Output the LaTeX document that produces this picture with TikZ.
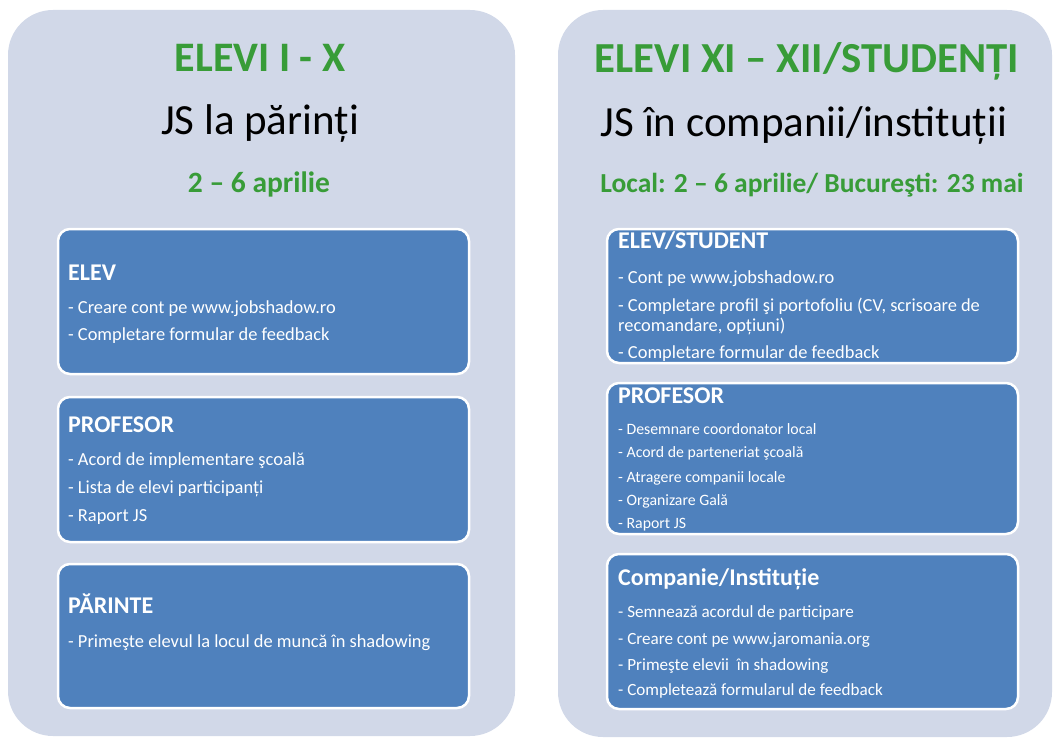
\documentclass[tikz,border=0pt]{standalone}
\usepackage{fontspec}
\setmainfont{Carlito}
\definecolor{panelfill}{HTML}{D1D8E8}
\definecolor{boxfill}{HTML}{4F81BD}
\definecolor{jagreen}{RGB}{56,156,56}
\tikzset{
  panel/.style={rectangle, rounded corners=45pt, fill=panelfill, draw=none, inner sep=0pt},
  card/.style={rectangle, rounded corners=12pt, fill=boxfill, draw=white, line width=2.5pt, inner sep=0pt, minimum width=411pt},
  ttl/.style={anchor=base, inner sep=0pt, text=jagreen, font=\fontsize{42}{46}\selectfont\bfseries},
  sub/.style={anchor=base, inner sep=0pt, text=black, font=\fontsize{43}{48}\selectfont},
  datetxt/.style={anchor=base, inner sep=0pt, text=jagreen, font=\fontsize{28}{32}\selectfont\bfseries},
  head/.style={anchor=base west, inner sep=0pt, text=white, font=\fontsize{24}{28}\selectfont\bfseries},
  item/.style={anchor=base west, inner sep=0pt, text=white, font=\fontsize{18.4}{22}\selectfont},
  itemmid/.style={anchor=base west, inner sep=0pt, text=white, font=\fontsize{17.1}{20}\selectfont},
  itemsm/.style={anchor=base west, inner sep=0pt, text=white, font=\fontsize{15.8}{19}\selectfont},
}
\begin{document}
\begin{tikzpicture}[x=1pt,y=-1pt]
\useasboundingbox (0,0) rectangle (1056,738);
% panels
\node[panel, minimum width=507pt, minimum height=726pt] (pl) at (261.5,373) {};
\node[panel, minimum width=494pt, minimum height=727pt] (pr) at (805,373.5) {};
% titles left
\node[ttl] (tl) at (260,72) {ELEVI I - X};
\node[sub] (sl) at (260,135) {JS la părinți};
\node[datetxt, font=\fontsize{29.5}{33}\selectfont\bfseries] (dl) at (259,193) {2 – 6 aprilie};
% titles right
\node[ttl, font=\fontsize{42.8}{47}\selectfont\bfseries] (tr) at (807,73) {ELEVI XI – XII/STUDENȚI};
\node[sub] (sr) at (804,137) {JS în companii/instituții};
\node[datetxt, font=\fontsize{27.5}{31}\selectfont\bfseries] (dr) at (812,192) {Local: 2 – 6 aprilie/ Bucureşti: 23 mai};
% left cards
\node[card, minimum height=145pt] (l1) at (263.5,301.5) {};
\node[card, minimum height=145pt] (l2) at (263.5,469.5) {};
\node[card, minimum height=144pt] (l3) at (263.5,636) {};
% right cards
\node[card, minimum height=134pt] (r1) at (812.5,296) {};
\node[card, minimum height=151pt] (r2) at (812.5,458.5) {};
\node[card, minimum height=155pt] (r3) at (812.5,631.5) {};
% left card texts
\node[head] (l1h) at (68,280) {ELEV};
\node[item] (l1a) at (68,313) {- Creare cont pe www.jobshadow.ro};
\node[item] (l1b) at (68,340) {- Completare formular de feedback};
\node[head] (l2h) at (68,432) {PROFESOR};
\node[item] (l2a) at (68,465) {- Acord de implementare şcoală};
\node[item] (l2b) at (68,493) {- Lista de elevi participanți};
\node[item] (l2c) at (68,521) {- Raport JS};
\node[head] (l3h) at (68,613) {PĂRINTE};
\node[item] (l3a) at (68,647) {- Primeşte elevul la locul de muncă în shadowing};
% right card texts
\node[head] (r1h) at (618,248) {ELEV/STUDENT};
\node[item] (r1a) at (618,283) {- Cont pe www.jobshadow.ro};
\node[item] (r1b) at (618,311) {- Completare profil şi portofoliu (CV, scrisoare de};
\node[item] (r1c) at (618,331) {recomandare, opțiuni)};
\node[item] (r1d) at (618,358) {- Completare formular de feedback};
\node[head] (r2h) at (618,403) {PROFESOR};
\node[itemsm] (r2a) at (618,434) {- Desemnare coordonator local};
\node[itemsm] (r2b) at (618,457) {- Acord de parteneriat şcoală};
\node[itemsm] (r2c) at (618,482) {- Atragere companii locale};
\node[itemsm] (r2d) at (618,505) {- Organizare Gală};
\node[itemsm] (r2e) at (618,528) {- Raport JS};
\node[head] (r3h) at (618,585) {Companie/Instituție};
\node[itemmid] (r3a) at (618,617) {- Semnează acordul de participare};
\node[itemmid] (r3b) at (618,644) {- Creare cont pe www.jaromania.org};
\node[itemmid] (r3c) at (618,670) {- Primeşte elevii\ \ în shadowing};
\node[itemmid] (r3d) at (618,695) {- Completează formularul de feedback};
\end{tikzpicture}
\end{document}
